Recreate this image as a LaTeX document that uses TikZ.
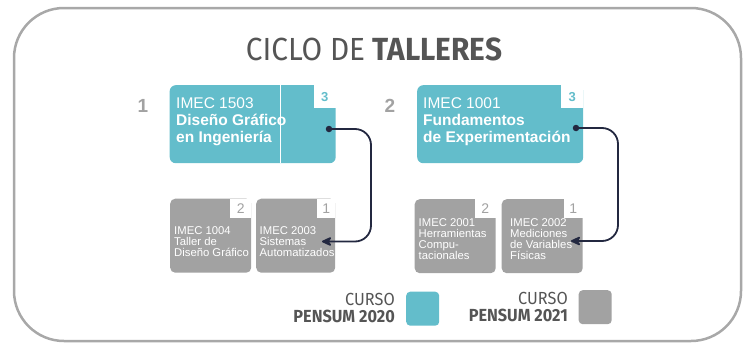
\documentclass[tikz,border=0pt]{standalone}
\usepackage{fontspec}
\setmainfont{Liberation Sans}
\newfontfamily\dinfont[FakeStretch=0.93]{Fira Sans}
\usetikzlibrary{arrows.meta}
\definecolor{cblue}{HTML}{63BDCB}
\definecolor{cgray}{HTML}{A2A2A2}
\definecolor{cnavy}{HTML}{232840}
\definecolor{ctitle}{HTML}{555555}
\definecolor{cborder}{HTML}{A8A8A8}
\begin{document}
\begin{tikzpicture}[x=1pt,y=-1pt,
  bluebox/.style={fill=cblue, rounded corners=6pt, inner sep=0pt, minimum width=166pt, minimum height=78pt, anchor=north west},
  graybox/.style={fill=cgray, rounded corners=5pt, inner sep=0pt, minimum width=81pt, minimum height=74pt, anchor=north west},
  bnotch/.style={fill=white, inner sep=0pt, minimum width=22pt, minimum height=23pt, anchor=north east, text=cblue, font=\fontsize{13}{13}\selectfont\bfseries},
  gnotch/.style={fill=white, inner sep=0pt, minimum width=21pt, minimum height=19pt, anchor=north east, text=cgray, font=\fontsize{14}{14}\selectfont},
  btext/.style={anchor=base west, align=left, inner sep=0pt, text=white, font=\fontsize{15.5}{17.4}\selectfont},
  gtext/.style={anchor=base west, align=left, inner sep=0pt, text=white, font=\fontsize{11.3}{11.3}\selectfont},
  numlbl/.style={text=cgray, inner sep=0pt, font=\fontsize{19}{19}\selectfont\bfseries},
  conn/.style={draw=cnavy, line width=1.8pt, rounded corners=16pt},
  dotst/.style={circle, fill=cnavy, inner sep=0pt, minimum size=6.5pt},
  legtext/.style={inner sep=0pt, anchor=base east, text=ctitle, font=\dinfont\fontsize{17.5}{17.5}\selectfont},
  legsq/.style={rounded corners=4pt, inner sep=0pt, minimum width=33pt, minimum height=34pt, anchor=north west}
]
\useasboundingbox (0,0) rectangle (750,343);
% outer frame
\draw[cborder, line width=2.5pt, rounded corners=50pt] (14,8) rectangle (741,341);
% title
\node[inner sep=0pt, anchor=base, text=ctitle, font=\dinfont\fontsize{32}{32}\selectfont] (title) at (374,60) {CICLO DE \textbf{TALLERES}};
% group 1 (multi-line text: base anchor = last line baseline)
\node[numlbl] (n1) at (143,106) {1};
\node[bluebox] (b1) at (169.5,85) {};
\draw[white, line width=0.6pt] (280.7,85) -- (280.7,162.7);
\node[bnotch] (b1n) at (b1.north east) {3};
\node[btext] (b1t) at (176,142.8) {IMEC 1503\\\textbf{Diseño Gráfico}\\\textbf{en Ingeniería}};
\node[graybox] (g1) at (170,198.5) {};
\node[gnotch] (g1n) at (g1.north east) {2};
\node[gtext] (g1t) at (174,256.6) {IMEC 1004\\Taller de\\Diseño Gráfico};
\node[graybox, minimum width=79pt] (g2) at (256,198.5) {};
\node[gnotch, minimum width=18pt] (g2n) at (g2.north east) {1};
\node[gtext] (g2t) at (259.5,256.6) {IMEC 2003\\Sistemas\\Automatizados};
\node[dotst] (d1) at (329,129) {};
\coordinate (a1) at (322,241.5);
\draw[conn, -{Stealth[length=12pt,width=11pt,round]}] (d1.center) -- (371,129) |- (a1);
% group 2
\node[numlbl] (n2) at (390,106) {2};
\node[bluebox] (b2) at (417,85) {};
\node[bnotch] (b2n) at (b2.north east) {3};
\node[btext] (b2t) at (423,142.8) {IMEC 1001\\\textbf{Fundamentos}\\\textbf{de Experimentación}};
\node[graybox] (g3) at (414.5,199) {};
\node[gnotch] (g3n) at (g3.north east) {2};
\node[gtext] (g3t) at (418.5,259.9) {IMEC 2001\\Herramientas\\Compu-\\tacionales};
\node[graybox] (g4) at (501.5,199) {};
\node[gnotch, minimum width=19pt] (g4n) at (g4.north east) {1};
\node[gtext] (g4t) at (510,259.9) {IMEC 2002\\Mediciones\\de Variables\\Físicas};
\node[dotst] (d2) at (576,128) {};
\coordinate (a2) at (571,241);
\draw[conn, -{Stealth[length=12pt,width=11pt,round]}] (d2.center) -- (618,128) |- (a2);
% legend
\node[legtext] (l1a) at (395,305) {CURSO};
\node[legtext] (l1b) at (395,322.7) {\textbf{PENSUM 2020}};
\node[legsq, fill=cblue] (sq1) at (406,291.5) {};
\node[legtext] (l2a) at (568,304) {CURSO};
\node[legtext] (l2b) at (568,321.5) {\textbf{PENSUM 2021}};
\node[legsq, fill=cgray] (sq2) at (578.5,290) {};
\end{tikzpicture}
\end{document}
